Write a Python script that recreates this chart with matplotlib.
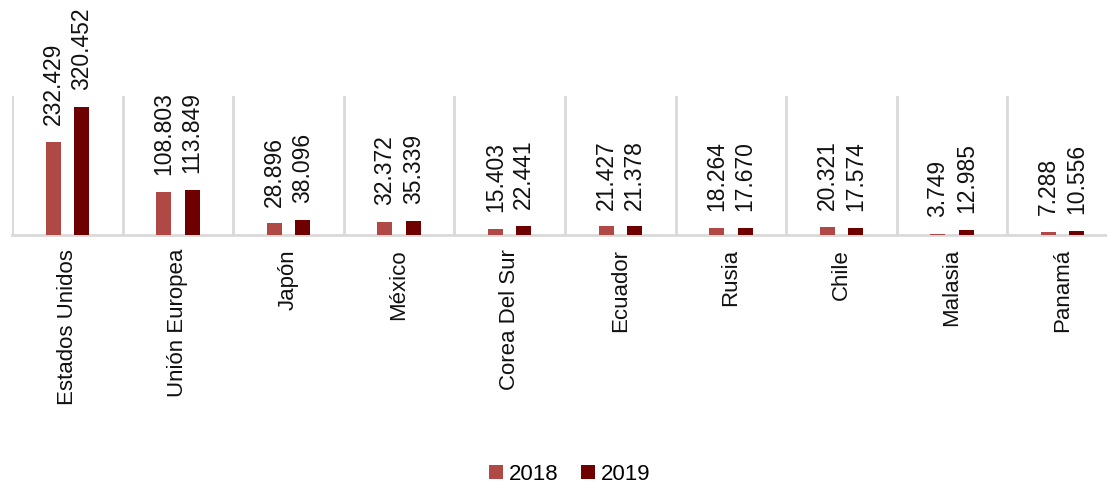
import matplotlib.pyplot as plt
import numpy as np

paises = ["Estados Unidos", "Unión Europea", "Japón", "México", "Corea Del Sur",
          "Ecuador", "Rusia", "Chile", "Malasia", "Panamá"]
v2018 = [232.429, 108.803, 28.896, 32.372, 15.403, 21.427, 18.264, 20.321, 3.749, 7.288]
v2019 = [320.452, 113.849, 38.096, 35.339, 22.441, 21.378, 17.670, 17.574, 12.985, 10.556]
series = ["2018", "2019"]

c2018 = "#B04846"
c2019 = "#6E0000"

plt.rcParams['font.family'] = ['Liberation Sans', 'DejaVu Sans']

W, H = 1107, 487
fig = plt.figure(figsize=(W / 100, H / 100), dpi=100)
ax = fig.add_axes([12 / W, (H - 235) / H, 1106 / W, 139 / H])

x = np.arange(len(paises))
w = 0.135
off = 0.128
b1 = ax.bar(x - off, v2018, w, color=c2018, label=series[0], zorder=3)
b2 = ax.bar(x + off, v2019, w, color=c2019, label=series[1], zorder=3)

for bars, vals in ((b1, v2018), (b2, v2019)):
    for r, v in zip(bars, vals):
        ax.annotate(f"{v:.3f}", (r.get_x() + r.get_width() / 2, v),
                    xytext=(0, 12), textcoords="offset points",
                    rotation=90, ha="center", va="bottom",
                    fontsize=16.5, color="#111111")

ax.set_xlim(-0.5, len(paises) - 0.5)
ax.set_ylim(0, 348)
ax.set_yticks([])
ax.set_xticks(x)
ax.set_xticklabels(paises, rotation=90, fontsize=16, color="#111111")
ax.tick_params(axis="x", length=0, pad=10)
ax.set_xticks(np.arange(-0.5, len(paises), 1), minor=True)
ax.tick_params(axis="x", which="minor", length=0)
ax.grid(axis="x", which="minor", color="#D9D9D9", linewidth=2)
ax.grid(axis="x", which="major", visible=False)
for s in ("top", "right", "left"):
    ax.spines[s].set_visible(False)
ax.spines["bottom"].set_color("#D9D9D9")
ax.spines["bottom"].set_linewidth(2)

fig.legend(handles=[b1, b2], loc="center", bbox_to_anchor=(570 / W, 1 - 474 / H),
           ncol=2, frameon=False, handlelength=0.6, handleheight=0.6,
           handletextpad=0.3, columnspacing=1.0,
           prop={"size": 16})

fig.savefig("out.png", dpi=100)
